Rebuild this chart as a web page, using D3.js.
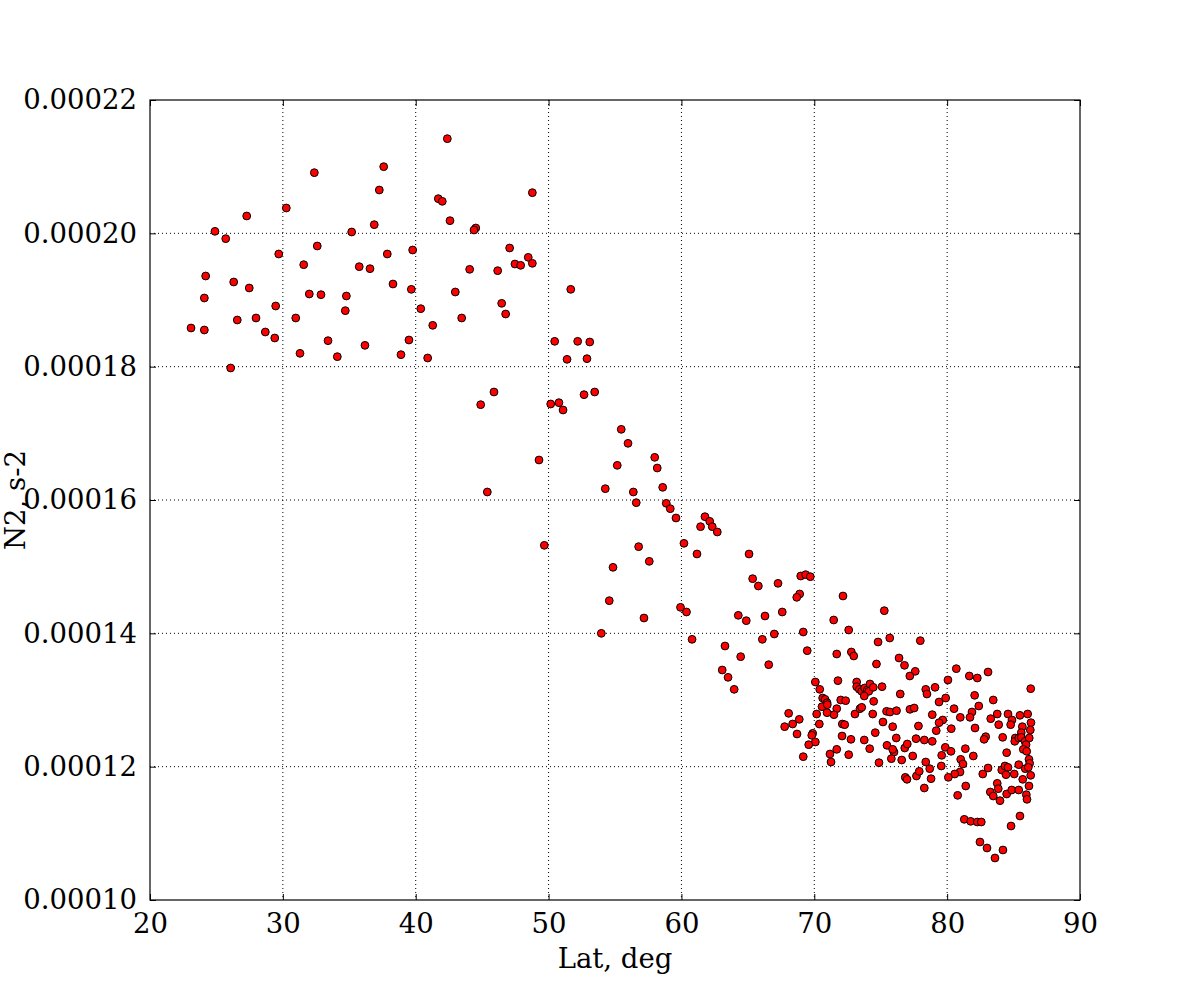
<!DOCTYPE html>
<html>
<head>
<meta charset="utf-8">
<script src="https://d3js.org/d3.v7.min.js"></script>
<style>
  body { margin: 0; background: #fff; }
  svg { display: block; }
  text { font-family: "DejaVu Serif", serif; }
</style>
</head>
<body>
<svg id="chart" width="1200" height="1000"></svg>
<script>
// latitude of each station, deg
const lat = [
  32.37, 37.59, 37.26, 30.26, 27.28, 24.89, 25.70, 35.18, 36.88, 32.59,
  29.69, 37.86, 31.57, 35.75, 36.56, 24.19, 26.30, 27.47, 38.29, 24.09,
  31.99, 32.87, 34.78, 29.46, 34.70, 26.57, 27.98, 30.97, 23.09, 24.09,
  28.68, 29.39, 33.40, 36.18, 31.29, 34.10, 26.07, 38.89, 42.38, 48.78,
  41.70, 42.00, 42.58, 44.52, 44.39, 39.77, 39.67, 47.07, 48.47, 47.47,
  47.90, 48.78, 44.06, 46.17, 42.98, 40.38, 46.47, 46.77, 43.46, 41.28,
  51.67, 39.49, 40.90, 50.46, 52.19, 53.10, 51.39, 52.89, 45.89, 44.89,
  50.16, 50.78, 51.09, 52.67, 53.47, 55.47, 55.98, 57.99, 58.18, 55.17,
  49.28, 45.39, 54.27, 56.38, 56.60, 58.59, 58.86, 59.16, 59.59, 61.44,
  49.68, 56.78, 57.58, 54.85, 60.19, 61.17, 54.57, 57.18, 59.93, 60.38,
  53.97, 60.80, 61.77, 62.13, 62.32, 62.70, 65.09, 65.36, 65.79, 67.27,
  68.98, 69.35, 69.70, 68.90, 68.68, 72.16, 64.28, 64.88, 66.29, 67.59,
  71.46, 72.59, 69.17, 63.28, 66.09, 66.99, 64.46, 69.47, 66.57, 63.07,
  63.51, 63.97, 71.69, 72.79, 72.97, 74.80, 74.68, 71.78, 70.08, 75.27,
  75.68, 77.98, 76.38, 76.79, 77.60, 77.19, 80.69, 80.06, 81.67, 82.27,
  83.08, 86.29, 79.09, 78.39, 78.48, 76.47, 82.07, 79.89, 79.39, 83.47,
  82.38, 80.52, 77.20, 77.52, 75.44, 75.70, 76.19, 73.19, 73.19, 73.39,
  73.57, 73.79, 73.99, 74.19, 74.10, 74.44, 75.10, 73.76, 74.47, 71.99,
  72.36, 71.69, 71.48, 73.06, 73.44, 73.57, 74.40, 70.41, 70.63, 70.81,
  70.96, 70.58, 70.98, 68.07, 68.87, 70.18, 70.96, 68.37, 67.77, 68.70,
  70.38, 69.88, 69.81, 70.08, 69.58, 69.17, 71.18, 71.69, 71.26, 72.59,
  72.11, 72.29, 72.09, 72.76, 73.76, 74.17, 74.59, 75.17, 75.90, 76.17,
  75.47, 76.00, 75.90, 75.80, 74.87, 76.58, 76.81, 77.00, 77.41, 77.84,
  77.66, 76.85, 76.98, 77.69, 77.90, 81.87, 81.72, 80.99, 78.88, 79.67,
  79.39, 79.18, 80.31, 82.10, 83.77, 84.58, 85.48, 86.06, 83.28, 84.88,
  84.78, 83.88, 86.31, 85.66, 86.26, 85.58, 78.28, 78.88, 82.90, 82.78,
  84.18, 85.13, 85.09, 85.39, 85.58, 85.86, 86.18, 85.94, 85.73, 85.99,
  79.59, 79.86, 80.29, 81.37, 81.97, 84.48, 81.02, 81.19, 78.39, 78.69,
  79.56, 80.97, 80.57, 80.09, 83.08, 82.68, 84.11, 84.35, 84.58, 84.43,
  85.39, 85.05, 86.16, 86.21, 85.88, 86.11, 86.29, 85.69, 78.79, 78.28,
  81.40, 83.77, 83.85, 83.25, 83.47, 83.98, 84.48, 84.86, 85.39, 86.16,
  85.96, 86.01, 80.79, 81.29, 81.77, 82.27, 82.57, 85.48, 84.81, 82.47,
  83.00, 84.20, 83.60
];

// buoyancy frequency squared, in units of 1e-5 s^-2
const n2e5 = [
  20.91, 21.00, 20.65, 20.38, 20.26, 20.03, 19.92, 20.02, 20.13, 19.81,
  19.69, 19.69, 19.53, 19.50, 19.47, 19.36, 19.27, 19.18, 19.24, 19.03,
  19.09, 19.08, 19.06, 18.91, 18.84, 18.70, 18.73, 18.73, 18.58, 18.55,
  18.52, 18.43, 18.39, 18.32, 18.20, 18.15, 17.98, 18.18, 21.42, 20.61,
  20.52, 20.48, 20.19, 20.08, 20.05, 19.75, 19.16, 19.78, 19.64, 19.54,
  19.52, 19.55, 19.46, 19.44, 19.12, 18.87, 18.95, 18.79, 18.73, 18.62,
  19.16, 18.40, 18.13, 18.38, 18.38, 18.37, 18.11, 18.12, 17.62, 17.43,
  17.44, 17.46, 17.35, 17.58, 17.62, 17.06, 16.85, 16.64, 16.48, 16.52,
  16.60, 16.12, 16.17, 16.12, 15.96, 16.19, 15.95, 15.87, 15.73, 15.60,
  15.32, 15.30, 15.08, 14.99, 15.35, 15.19, 14.49, 14.23, 14.39, 14.32,
  14.00, 13.91, 15.75, 15.68, 15.60, 15.52, 15.19, 14.82, 14.71, 14.75,
  14.86, 14.88, 14.85, 14.59, 14.54, 14.56, 14.27, 14.19, 14.26, 14.32,
  14.20, 14.05, 14.02, 13.81, 13.91, 13.99, 13.65, 13.74, 13.53, 13.45,
  13.34, 13.16, 13.69, 13.72, 13.66, 13.87, 13.54, 13.29, 13.27, 14.34,
  13.93, 13.89, 13.63, 13.52, 13.43, 13.36, 13.47, 13.30, 13.36, 13.33,
  13.42, 13.17, 13.19, 13.16, 13.09, 13.09, 13.07, 13.03, 12.97, 13.00,
  12.91, 12.87, 12.86, 12.88, 12.83, 12.82, 12.84, 13.27, 13.20, 13.16,
  13.13, 13.18, 13.15, 13.24, 13.13, 13.19, 13.20, 13.06, 12.98, 13.00,
  12.99, 12.87, 12.78, 12.79, 12.87, 12.89, 12.79, 13.16, 13.03, 13.01,
  12.96, 12.90, 12.93, 12.80, 12.71, 12.79, 12.81, 12.64, 12.60, 12.49,
  12.64, 12.50, 12.47, 12.37, 12.33, 12.15, 12.19, 12.26, 12.07, 12.18,
  12.64, 12.63, 12.46, 12.41, 12.40, 12.27, 12.51, 12.67, 12.60, 12.43,
  12.32, 12.22, 12.26, 12.12, 12.06, 12.10, 12.28, 12.34, 12.16, 12.61,
  12.42, 11.84, 11.81, 11.86, 11.93, 12.82, 12.74, 12.74, 12.78, 12.70,
  12.66, 12.54, 12.57, 12.58, 12.79, 12.79, 12.77, 12.79, 12.72, 12.70,
  12.63, 12.63, 12.66, 12.60, 12.55, 12.51, 12.40, 12.38, 12.45, 12.41,
  12.44, 12.43, 12.38, 12.43, 12.44, 12.38, 12.43, 12.33, 12.26, 12.23,
  12.17, 12.29, 12.23, 12.27, 12.16, 12.21, 12.11, 12.04, 12.07, 11.97,
  12.01, 11.92, 11.89, 11.84, 11.98, 11.89, 11.95, 12.01, 11.99, 11.88,
  12.03, 11.89, 12.11, 12.05, 11.97, 11.99, 11.87, 11.81, 11.82, 11.68,
  11.71, 11.75, 11.67, 11.62, 11.56, 11.49, 11.59, 11.65, 11.65, 11.71,
  11.58, 11.51, 11.57, 11.21, 11.18, 11.17, 11.17, 11.26, 11.11, 10.87,
  10.78, 10.75, 10.63
];

const xTicks = [20, 30, 40, 50, 60, 70, 80, 90];
const yTicks = [0.00010, 0.00012, 0.00014, 0.00016, 0.00018, 0.00020, 0.00022];

const points = lat.map((d, i) => ({ lat: d, n2: n2e5[i] * 1e-5 }));

const margin = { top: 100, right: 120, bottom: 100, left: 150 };
const width = 1200 - margin.left - margin.right;
const height = 1000 - margin.top - margin.bottom;
const fontSize = 27.5;

const svg = d3.select("#chart");
const g = svg.append("g")
    .attr("transform", `translate(${margin.left},${margin.top})`);

const x = d3.scaleLinear().domain([20, 90]).range([0, width]);
const y = d3.scaleLinear().domain([0.00010, 0.00022]).range([height, 0]);

// dotted grid
g.append("g")
    .selectAll("line")
    .data(xTicks.slice(1, -1))
    .enter()
    .append("line")
    .attr("x1", d => x(d)).attr("x2", d => x(d))
    .attr("y1", 0).attr("y2", height)
    .attr("stroke", "#000")
    .attr("stroke-width", 1)
    .attr("stroke-dasharray", "1,3");

g.append("g")
    .selectAll("line")
    .data(yTicks.slice(1, -1))
    .enter()
    .append("line")
    .attr("x1", 0).attr("x2", width)
    .attr("y1", d => y(d)).attr("y2", d => y(d))
    .attr("stroke", "#000")
    .attr("stroke-width", 1)
    .attr("stroke-dasharray", "1,3");

// points
g.append("g")
    .selectAll("circle")
    .data(points)
    .enter()
    .append("circle")
    .attr("cx", d => x(d.lat))
    .attr("cy", d => y(d.n2))
    .attr("r", 3.9)
    .attr("fill", "#ff0000")
    .attr("stroke", "#000")
    .attr("stroke-width", 1);

// axes, ticks pointing inward
const fmtY = d => d.toFixed(5);

const xBottom = g.append("g")
    .attr("transform", `translate(0,${height})`)
    .call(d3.axisBottom(x).tickValues(xTicks).tickSize(-6).tickPadding(13).tickFormat(d3.format("d")));
const xTop = g.append("g")
    .call(d3.axisTop(x).tickValues(xTicks).tickSize(-6).tickFormat(""));
const yLeft = g.append("g")
    .call(d3.axisLeft(y).tickValues(yTicks).tickSize(-6).tickPadding(13).tickFormat(fmtY));
const yRight = g.append("g")
    .attr("transform", `translate(${width},0)`)
    .call(d3.axisRight(y).tickValues(yTicks).tickSize(-6).tickFormat(""));

[xBottom, xTop, yLeft, yRight].forEach(a => {
    a.select(".domain").remove();
    a.selectAll("line").attr("stroke", "#000").attr("stroke-width", 1);
    a.selectAll("text")
        .attr("font-family", "DejaVu Serif")
        .attr("font-size", fontSize)
        .attr("fill", "#000");
});

// frame
g.append("rect")
    .attr("width", width)
    .attr("height", height)
    .attr("fill", "none")
    .attr("stroke", "#000")
    .attr("stroke-width", 1.2);

// axis labels
svg.append("text")
    .attr("x", margin.left + width / 2)
    .attr("y", 968)
    .attr("text-anchor", "middle")
    .attr("font-size", fontSize)
    .text("Lat, deg");

svg.append("text")
    .attr("transform", `translate(25,${margin.top + height / 2}) rotate(-90)`)
    .attr("text-anchor", "middle")
    .attr("font-size", fontSize)
    .text("N2, s-2");
</script>
</body>
</html>
